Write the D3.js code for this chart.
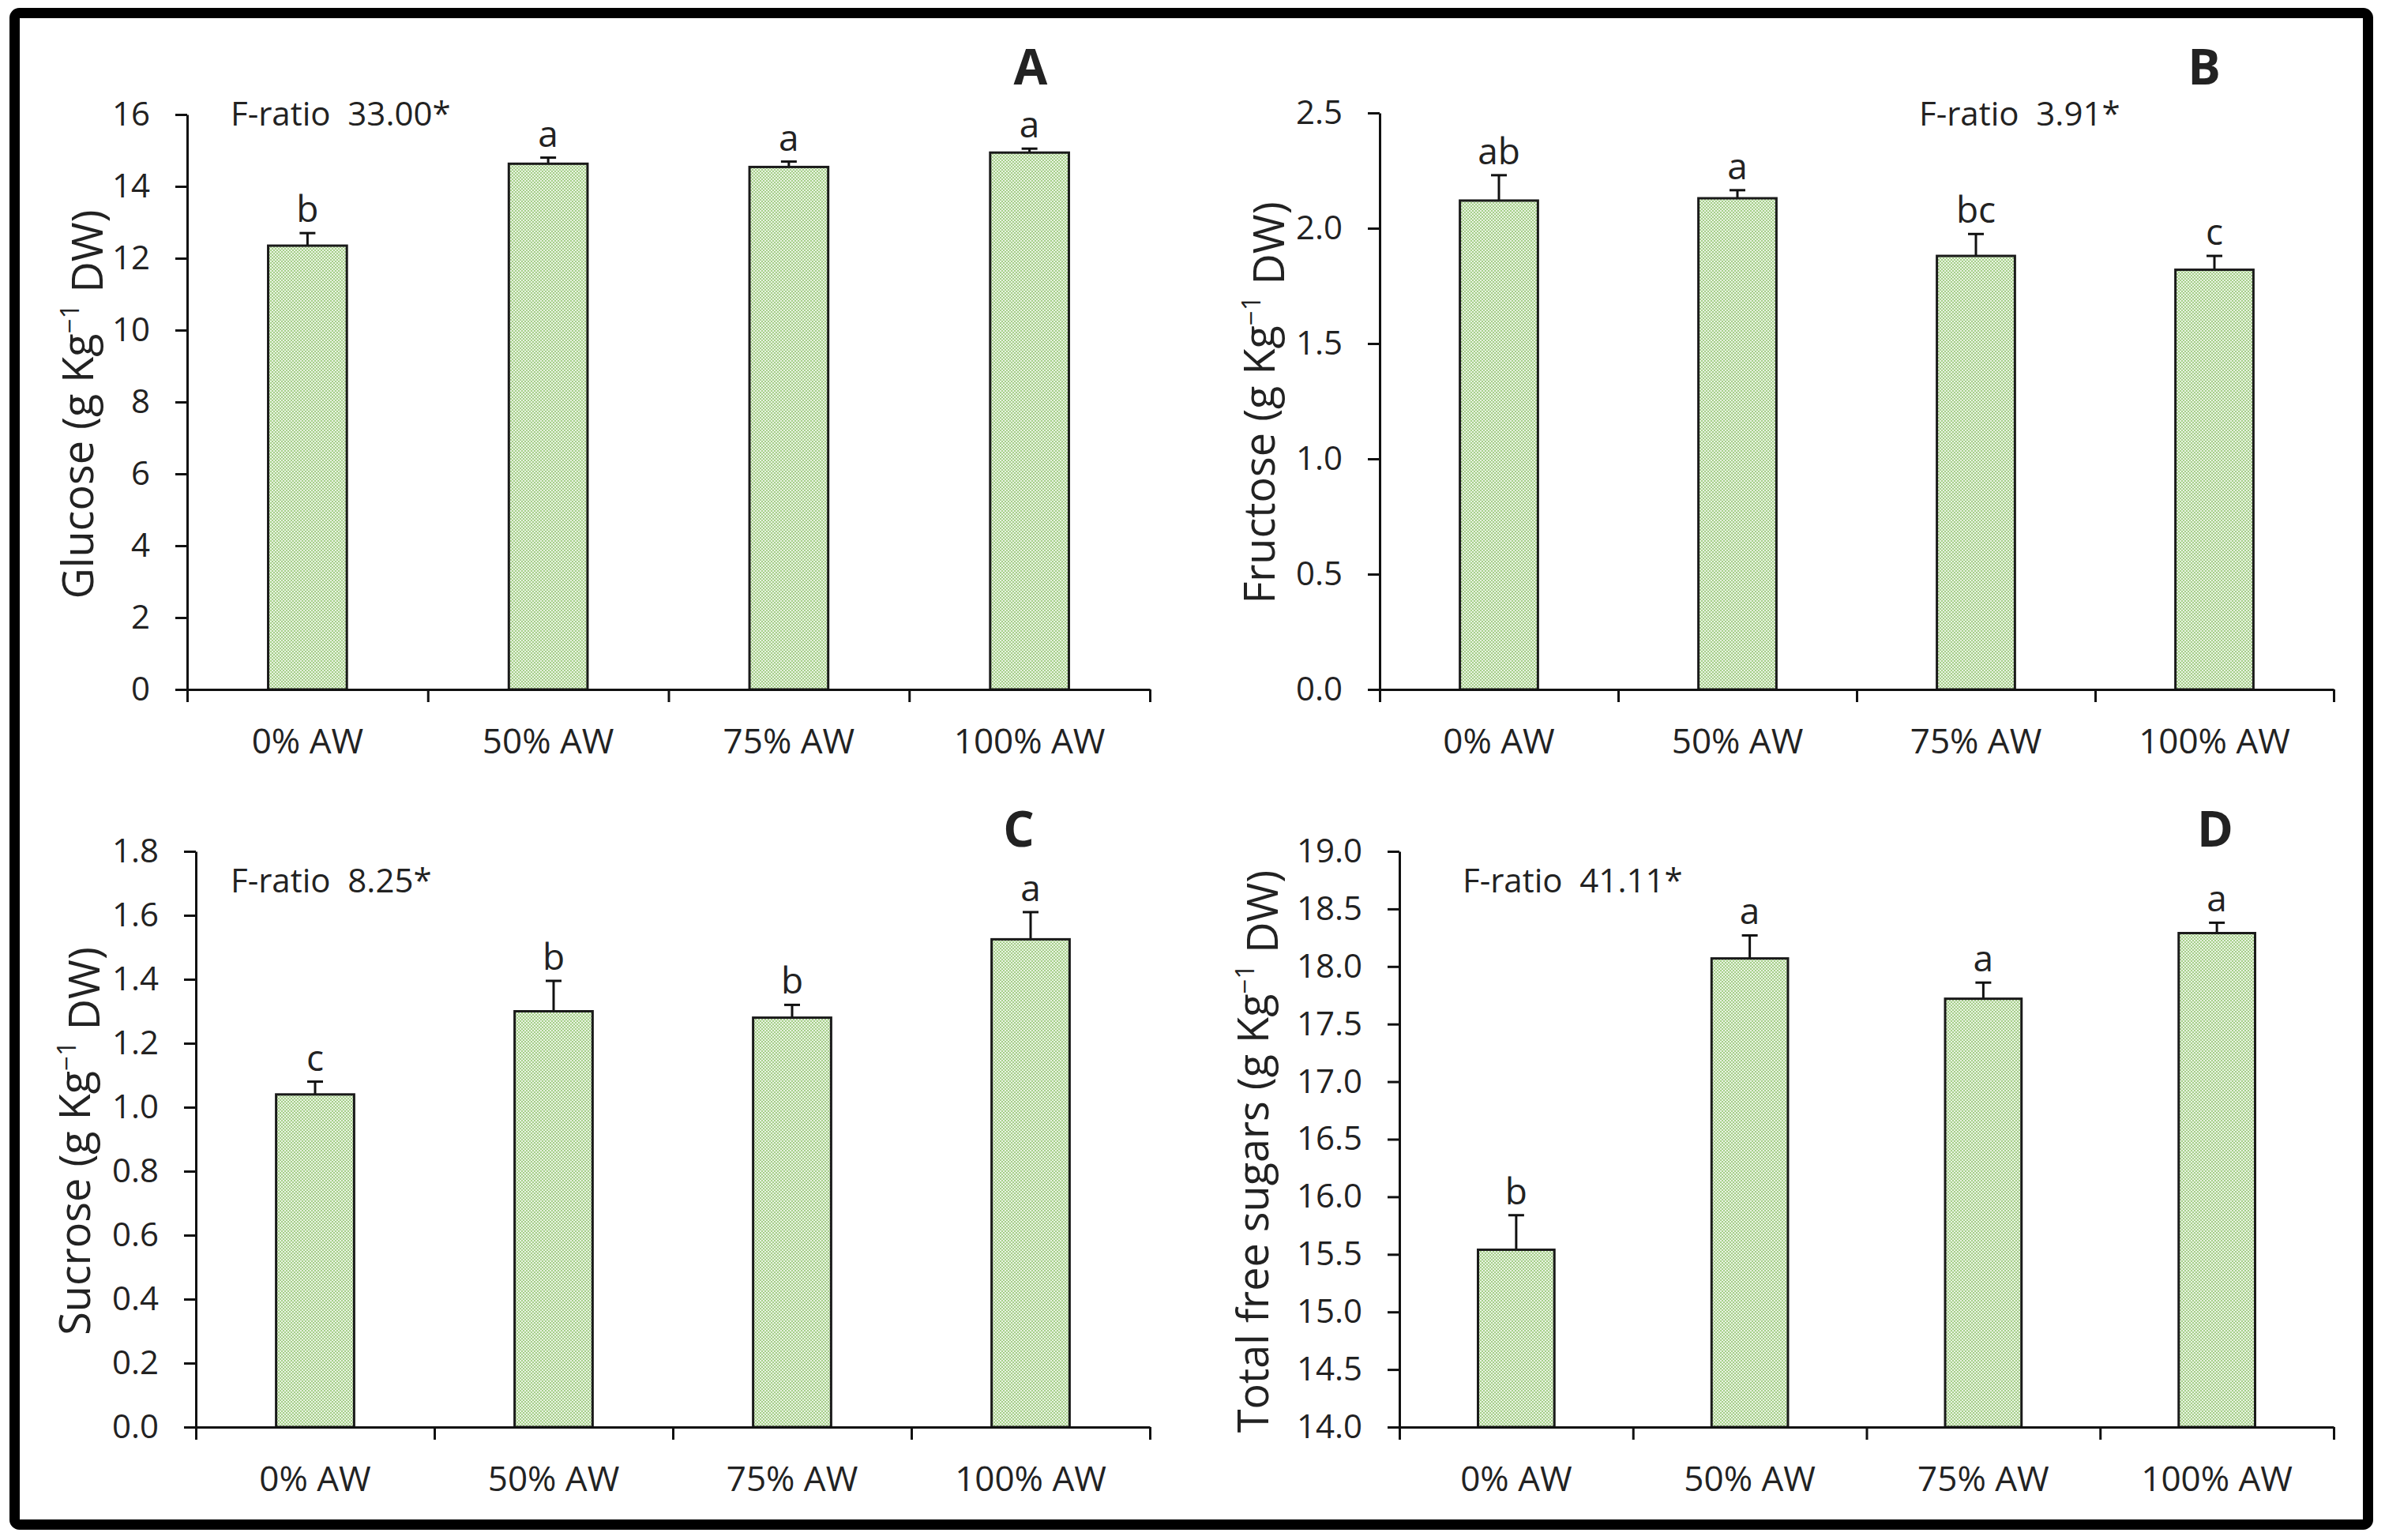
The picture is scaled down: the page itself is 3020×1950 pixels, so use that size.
<!DOCTYPE html>
<html>
<head>
<meta charset="utf-8">
<script src="https://cdn.jsdelivr.net/npm/d3@7"></script>
<style>
  body { margin: 0; background: #fff; }
  text { font-family: 'Open Sans', 'Noto Sans', sans-serif; fill: #222; }
</style>
</head>
<body>
<div id="chart"></div>
<script>
// Treatments (x categories)
const categories = ['0% AW', '50% AW', '75% AW', '100% AW'];

// A - glucose
const glucose = [12.35, 14.63, 14.54, 14.94];
const glucoseErr = [0.35, 0.17, 0.15, 0.11];
const glucoseLetters = ['b', 'a', 'a', 'a'];
const glucoseTicks = [0, 2, 4, 6, 8, 10, 12, 14, 16];

// B - fructose
const fructose = [2.12, 2.13, 1.88, 1.82];
const fructoseErr = [0.11, 0.035, 0.095, 0.06];
const fructoseLetters = ['ab', 'a', 'bc', 'c'];
const fructoseTicks = [0.0, 0.5, 1.0, 1.5, 2.0, 2.5];

// C - sucrose
const sucrose = [1.04, 1.30, 1.28, 1.525];
const sucroseErr = [0.04, 0.095, 0.04, 0.085];
const sucroseLetters = ['c', 'b', 'b', 'a'];
const sucroseTicks = [0.0, 0.2, 0.4, 0.6, 0.8, 1.0, 1.2, 1.4, 1.6, 1.8];

// D - total free sugars
const totalSugars = [15.54, 18.07, 17.72, 18.29];
const totalSugarsErr = [0.30, 0.20, 0.14, 0.09];
const totalSugarsLetters = ['b', 'a', 'a', 'a'];
const totalSugarsTicks = [14.0, 14.5, 15.0, 15.5, 16.0, 16.5, 17.0, 17.5, 18.0, 18.5, 19.0];

const fRatios = ['F-ratio  33.00*', 'F-ratio  3.91*', 'F-ratio  8.25*', 'F-ratio  41.11*'];
const panelLabels = ['A', 'B', 'C', 'D'];
const yTitles = ['Glucose', 'Fructose', 'Sucrose', 'Total free sugars'];

const W = 3020, H = 1950;

const svg = d3.select('#chart').append('svg')
  .attr('width', W)
  .attr('height', H);

svg.append('rect').attr('width', W).attr('height', H).attr('fill', '#fff');

// dotted green fill like the Excel pattern
const pat = svg.append('defs').append('pattern')
  .attr('id', 'dots')
  .attr('width', 4).attr('height', 4)
  .attr('patternUnits', 'userSpaceOnUse');
pat.append('rect').attr('width', 4).attr('height', 4).attr('fill', '#a6cf8a');
pat.append('circle').attr('cx', 1).attr('cy', 1).attr('r', 1).attr('fill', '#fff');
pat.append('circle').attr('cx', 3).attr('cy', 3).attr('r', 1).attr('fill', '#fff');

// outer frame
svg.append('rect')
  .attr('x', 18.5).attr('y', 16.5)
  .attr('width', 2980).attr('height', 1914)
  .attr('rx', 6)
  .attr('fill', 'none')
  .attr('stroke', '#000')
  .attr('stroke-width', 13);

const panels = [
  { values: glucose, err: glucoseErr, letters: glucoseLetters, ticks: glucoseTicks, fmt: d3.format('d'),
    left: 237, right: 1456, top: 145, bottom: 873,
    fx: 292, fy: 159, lx: 1305, ly: 107, tx: 118, ty: 512 },
  { values: fructose, err: fructoseErr, letters: fructoseLetters, ticks: fructoseTicks, fmt: d3.format('.1f'),
    left: 1747, right: 2955, top: 143, bottom: 873,
    fx: 2430, fy: 159, lx: 2791, ly: 107, tx: 1614, ty: 510 },
  { values: sucrose, err: sucroseErr, letters: sucroseLetters, ticks: sucroseTicks, fmt: d3.format('.1f'),
    left: 248, right: 1456, top: 1078, bottom: 1807,
    fx: 292, fy: 1130, lx: 1290, ly: 1072, tx: 114, ty: 1445 },
  { values: totalSugars, err: totalSugarsErr, letters: totalSugarsLetters, ticks: totalSugarsTicks, fmt: d3.format('.1f'),
    left: 1772, right: 2955, top: 1078, bottom: 1807,
    fx: 1852, fy: 1130, lx: 2805, ly: 1072, tx: 1606, ty: 1458 }
];

panels.forEach((p, k) => drawPanel(p, k));

function drawPanel(p, k) {
  const g = svg.append('g');

  const x = d3.scaleBand()
    .domain(categories)
    .range([p.left, p.right])
    .paddingInner(0.673)
    .paddingOuter(0.3365);

  const y = d3.scaleLinear()
    .domain([p.ticks[0], p.ticks[p.ticks.length - 1]])
    .range([p.bottom, p.top]);

  const rows = categories.map((c, i) => ({ cat: c, v: p.values[i], e: p.err[i], l: p.letters[i] }));

  // error bars (upper only)
  const eb = g.selectAll('g.err').data(rows).join('g').attr('class', 'err');
  eb.append('line')
    .attr('x1', d => x(d.cat) + x.bandwidth() / 2)
    .attr('x2', d => x(d.cat) + x.bandwidth() / 2)
    .attr('y1', d => y(d.v))
    .attr('y2', d => y(d.v + d.e))
    .attr('stroke', '#111').attr('stroke-width', 3);
  eb.append('line')
    .attr('x1', d => x(d.cat) + x.bandwidth() / 2 - 10)
    .attr('x2', d => x(d.cat) + x.bandwidth() / 2 + 10)
    .attr('y1', d => y(d.v + d.e))
    .attr('y2', d => y(d.v + d.e))
    .attr('stroke', '#111').attr('stroke-width', 3);

  // bars
  g.selectAll('rect.bar').data(rows).join('rect')
    .attr('class', 'bar')
    .attr('x', d => x(d.cat))
    .attr('width', x.bandwidth())
    .attr('y', d => y(d.v))
    .attr('height', d => y(p.ticks[0]) - y(d.v))
    .attr('fill', 'url(#dots)')
    .attr('stroke', '#1a1a1a')
    .attr('stroke-width', 3);

  // significance letters
  g.selectAll('text.sig').data(rows).join('text')
    .attr('class', 'sig')
    .attr('x', d => x(d.cat) + x.bandwidth() / 2)
    .attr('y', d => y(d.v + d.e) - 14)
    .attr('text-anchor', 'middle')
    .style('font-size', '46px')
    .text(d => d.l);

  // y axis
  const ya = g.append('g')
    .attr('transform', `translate(${p.left},0)`)
    .call(d3.axisLeft(y).tickValues(p.ticks).tickFormat(p.fmt)
      .tickSize(15).tickSizeOuter(0).tickPadding(32));
  ya.selectAll('text').style('font-size', '42px').attr('fill', '#222');

  // x axis line + boundary ticks
  const xb = d3.scaleLinear().domain([0, categories.length]).range([p.left, p.right]);
  g.append('g')
    .attr('transform', `translate(0,${p.bottom})`)
    .call(d3.axisBottom(xb).tickValues(d3.range(categories.length + 1))
      .tickFormat('').tickSize(16).tickSizeOuter(0));

  // category labels
  const xa = g.append('g')
    .attr('transform', `translate(0,${p.bottom})`)
    .call(d3.axisBottom(x).tickSize(0).tickPadding(50));
  xa.select('.domain').remove();
  xa.selectAll('text').style('font-size', '44px').attr('fill', '#222');

  g.selectAll('.domain, .tick line')
    .attr('stroke', '#111')
    .attr('stroke-width', 3);

  // F-ratio
  g.append('text')
    .attr('x', p.fx).attr('y', p.fy)
    .style('font-size', '42px')
    .style('white-space', 'pre')
    .text(fRatios[k]);

  // panel letter
  g.append('text')
    .attr('x', p.lx).attr('y', p.ly)
    .attr('text-anchor', 'middle')
    .style('font-size', '62px')
    .style('font-weight', 'bold')
    .attr('fill', '#000')
    .text(panelLabels[k]);

  // y title with superscript
  const t = g.append('text')
    .attr('transform', `translate(${p.tx},${p.ty}) rotate(-90)`)
    .attr('text-anchor', 'middle')
    .style('font-size', '54px');
  t.append('tspan').text(yTitles[k] + ' (g Kg');
  t.append('tspan').attr('dy', '-0.55em').style('font-size', '33px').text('\u22121');
  t.append('tspan').attr('dy', '0.55em').text(' DW)');
}
</script>
</body>
</html>
